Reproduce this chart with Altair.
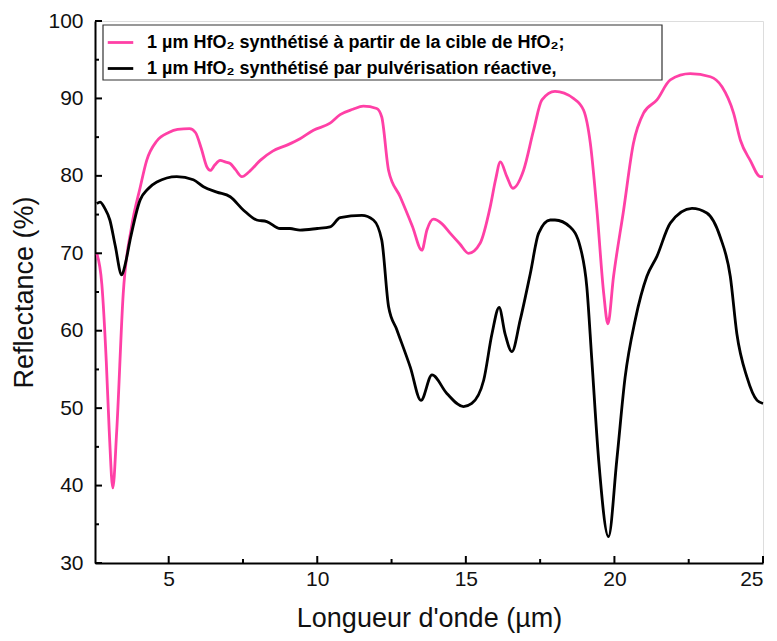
import altair as alt
import pandas as pd

# ---- data ----
pink_x = [2.58, 2.75, 2.9, 3.0, 3.12, 3.25, 3.47, 3.75, 4.04, 4.26, 4.6, 5.0, 5.3, 5.7, 5.9, 6.1, 6.28, 6.4, 6.55, 6.73, 6.9, 7.07, 7.25, 7.46, 7.7, 8.08, 8.5, 9.0, 9.42, 9.87, 10.43, 10.77, 11.2, 11.55, 12.0, 12.17, 12.4, 12.79, 13.2, 13.52, 13.69, 13.91, 14.2, 14.47, 14.8, 15.09, 15.48, 15.82, 16.0, 16.16, 16.38, 16.58, 16.94, 17.28, 17.56, 18.0, 18.62, 18.96, 19.19, 19.41, 19.64, 19.78, 19.97, 20.31, 20.64, 20.98, 21.43, 21.88, 22.55, 23.23, 23.62, 24.01, 24.24, 24.57, 24.91, 25.0]
pink_y = [70.0, 66.0, 56.0, 47.0, 39.7, 47.0, 64.8, 73.4, 78.5, 82.0, 84.5, 85.6, 86.0, 86.1, 85.6, 83.5, 81.2, 80.7, 81.4, 82.0, 81.8, 81.6, 80.8, 79.9, 80.5, 82.0, 83.2, 84.0, 84.8, 85.9, 86.8, 87.9, 88.6, 89.0, 88.7, 87.6, 80.7, 77.3, 73.5, 70.4, 73.0, 74.4, 73.8, 72.6, 71.2, 70.0, 71.3, 76.0, 79.5, 81.8, 79.9, 78.4, 80.7, 85.9, 89.8, 90.9, 90.0, 88.5, 84.2, 75.6, 64.8, 60.9, 67.0, 75.6, 84.2, 88.1, 89.8, 92.4, 93.2, 92.8, 91.5, 88.1, 84.6, 82.0, 79.9, 79.9]

black_x = [2.58, 2.69, 2.85, 3.02, 3.2, 3.42, 3.55, 3.7, 4.04, 4.3, 4.6, 5.27, 5.83, 6.17, 6.62, 7.07, 7.51, 7.96, 8.3, 8.75, 9.08, 9.42, 10.0, 10.43, 10.77, 11.5, 11.89, 12.17, 12.4, 12.68, 13.13, 13.49, 13.86, 14.36, 14.92, 15.2, 15.6, 15.88, 16.12, 16.32, 16.55, 16.83, 17.17, 17.45, 17.84, 18.0, 18.51, 18.85, 19.07, 19.24, 19.47, 19.8, 20.08, 20.36, 20.7, 21.09, 21.43, 21.88, 22.61, 23.11, 23.56, 23.9, 24.12, 24.46, 24.8, 25.0]
black_y = [76.4, 76.6, 75.8, 74.3, 71.0, 67.2, 68.8, 71.7, 76.9, 78.3, 79.2, 79.9, 79.5, 78.6, 77.9, 77.3, 75.6, 74.3, 74.1, 73.2, 73.2, 73.0, 73.2, 73.4, 74.6, 74.9, 74.3, 71.7, 63.1, 60.1, 55.3, 51.0, 54.3, 51.9, 50.2, 50.6, 53.6, 59.6, 63.0, 59.6, 57.3, 61.4, 67.4, 72.6, 74.3, 74.3, 73.4, 70.8, 65.7, 56.2, 43.3, 33.4, 43.3, 54.0, 61.4, 67.0, 69.6, 73.9, 75.8, 75.2, 72.1, 67.0, 59.6, 54.0, 51.0, 50.6]

series_names = [
    "1 µm HfO₂ synthétisé à partir de la cible de HfO₂;",
    "1 µm HfO₂ synthétisé par pulvérisation réactive,",
]
series_colors = ["#ff40a6", "#000000"]

x_major = [5, 10, 15, 20, 25]
x_minor = [7.5, 12.5, 17.5, 22.5]
y_major = [30, 40, 50, 60, 70, 80, 90, 100]
y_minor = [35, 45, 55, 65, 75, 85, 95]

df = pd.concat([
    pd.DataFrame({"wl": pink_x, "R": pink_y, "serie": series_names[0], "order": range(len(pink_x))}),
    pd.DataFrame({"wl": black_x, "R": black_y, "serie": series_names[1], "order": range(len(black_x))}),
])

FONT = "Liberation Sans"
xscale = alt.Scale(domain=[2.52, 25], nice=False, zero=False)
yscale = alt.Scale(domain=[30, 100], nice=False, zero=False)

xaxis = alt.Axis(title="Longueur d'onde (µm)", values=x_major, ticks=False, grid=False,
                 domainColor="black", domainWidth=2, labelFontSize=21, labelFont=FONT,
                 labelColor="#111", labelPadding=5, titleFontSize=27, titleFont=FONT,
                 titleFontWeight="normal", titleColor="#111", titlePadding=16)
yaxis = alt.Axis(title="Reflectance (%)", values=y_major, ticks=False, grid=False,
                 domainColor="black", domainWidth=2, labelFontSize=21, labelFont=FONT,
                 labelColor="#111", labelPadding=12, titleFontSize=27, titleFont=FONT,
                 titleFontWeight="normal", titleColor="#111", titlePadding=9)

# legend frame (decoration)
legend_box = alt.Chart(pd.DataFrame({"a": [0]})).mark_rect(
    fill="white", stroke="#333", strokeWidth=1.2
).encode(x=alt.value(8), x2=alt.value(567), y=alt.value(4), y2=alt.value(59))

lines = alt.Chart(df).mark_line(strokeWidth=2.8, interpolate="monotone").encode(
    x=alt.X("wl:Q", scale=xscale, axis=xaxis),
    y=alt.Y("R:Q", scale=yscale, axis=yaxis),
    color=alt.Color("serie:N", scale=alt.Scale(domain=series_names, range=series_colors),
                    legend=alt.Legend(title=None, orient="none", legendX=9, legendY=5,
                                      padding=2,
                                      symbolType="stroke", symbolSize=650, symbolStrokeWidth=2.8,
                                      labelFontSize=18, labelFont=FONT, labelFontWeight="bold",
                                      labelColor="black", labelLimit=800, labelOffset=12,
                                      rowPadding=2)),
    order="order:Q",
)

ymaj = alt.Chart(pd.DataFrame({"v": y_major})).mark_rule(color="black", strokeWidth=2).encode(
    y=alt.Y("v:Q", scale=yscale, axis=yaxis), x=alt.value(0), x2=alt.value(7))
ymin = alt.Chart(pd.DataFrame({"v": y_minor})).mark_rule(color="black", strokeWidth=2).encode(
    y=alt.Y("v:Q", scale=yscale, axis=yaxis), x=alt.value(0), x2=alt.value(4))
xmaj = alt.Chart(pd.DataFrame({"v": x_major})).mark_rule(color="black", strokeWidth=2).encode(
    x=alt.X("v:Q", scale=xscale, axis=xaxis), y=alt.value(542), y2=alt.value(535))
xmin = alt.Chart(pd.DataFrame({"v": x_minor})).mark_rule(color="black", strokeWidth=2).encode(
    x=alt.X("v:Q", scale=xscale, axis=xaxis), y=alt.value(542), y2=alt.value(538))

chart = alt.layer(legend_box, lines, ymaj, ymin, xmaj, xmin).properties(
    width=668, height=542,
    padding={"left": 95, "top": 21, "right": 14, "bottom": 78},
    autosize=alt.AutoSizeParams(type="none"),
).configure_view(stroke="black", strokeWidth=2).configure(background="white")

chart.save("out.html", embed_options={"renderer": "svg", "actions": False})
